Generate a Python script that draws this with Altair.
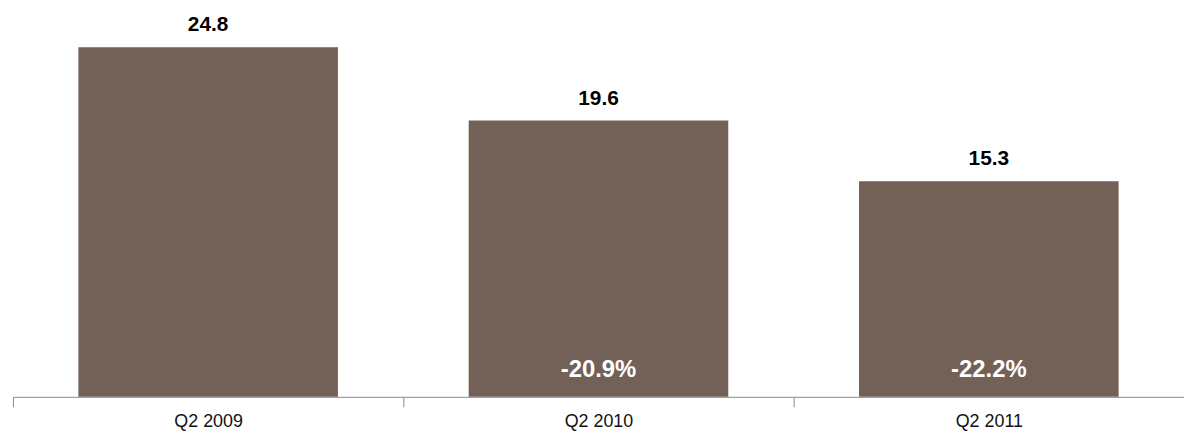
import altair as alt
import pandas as pd

quarters = ['Q2 2009', 'Q2 2010', 'Q2 2011']
values = [24.8, 19.6, 15.3]
changes = ['', '-20.9%', '-22.2%']

df = pd.DataFrame({'quarter': quarters, 'value': values, 'change': changes})

x = alt.X('quarter:N', sort=quarters, title=None,
          scale=alt.Scale(paddingInner=0, paddingOuter=0),
          axis=alt.Axis(labelAngle=0, labelFontSize=18, labelColor='#111',
                        labelFont='Liberation Sans', labelPadding=6,
                        domainColor='#888', tickColor='#888', tickSize=10,
                        tickBand='extent'))
y = alt.Y('value:Q', scale=alt.Scale(domain=[0, 27.48], nice=False), axis=None)

base = alt.Chart(df).encode(x=x)

bars = base.mark_bar(color='#736157', width={'band': 0.665}).encode(y=y)

labels = base.mark_text(baseline='bottom', dy=-12, fontSize=21, fontWeight='bold',
                        font='Liberation Sans', color='#000').encode(
    y=y, text='value:Q')

pct = base.mark_text(baseline='middle', fontSize=24, fontWeight='bold',
                     font='Liberation Sans', color='white').encode(
    y=alt.value(363), text='change:N')

chart = (bars + labels + pct).properties(
    width=1179, height=390,
    padding={'left': 5, 'top': 0, 'right': 0, 'bottom': 40},
    autosize=alt.AutoSizeParams(type='none'),
).configure_view(stroke=None)

chart.save("out.html", embed_options={"renderer": "svg", "actions": False})
